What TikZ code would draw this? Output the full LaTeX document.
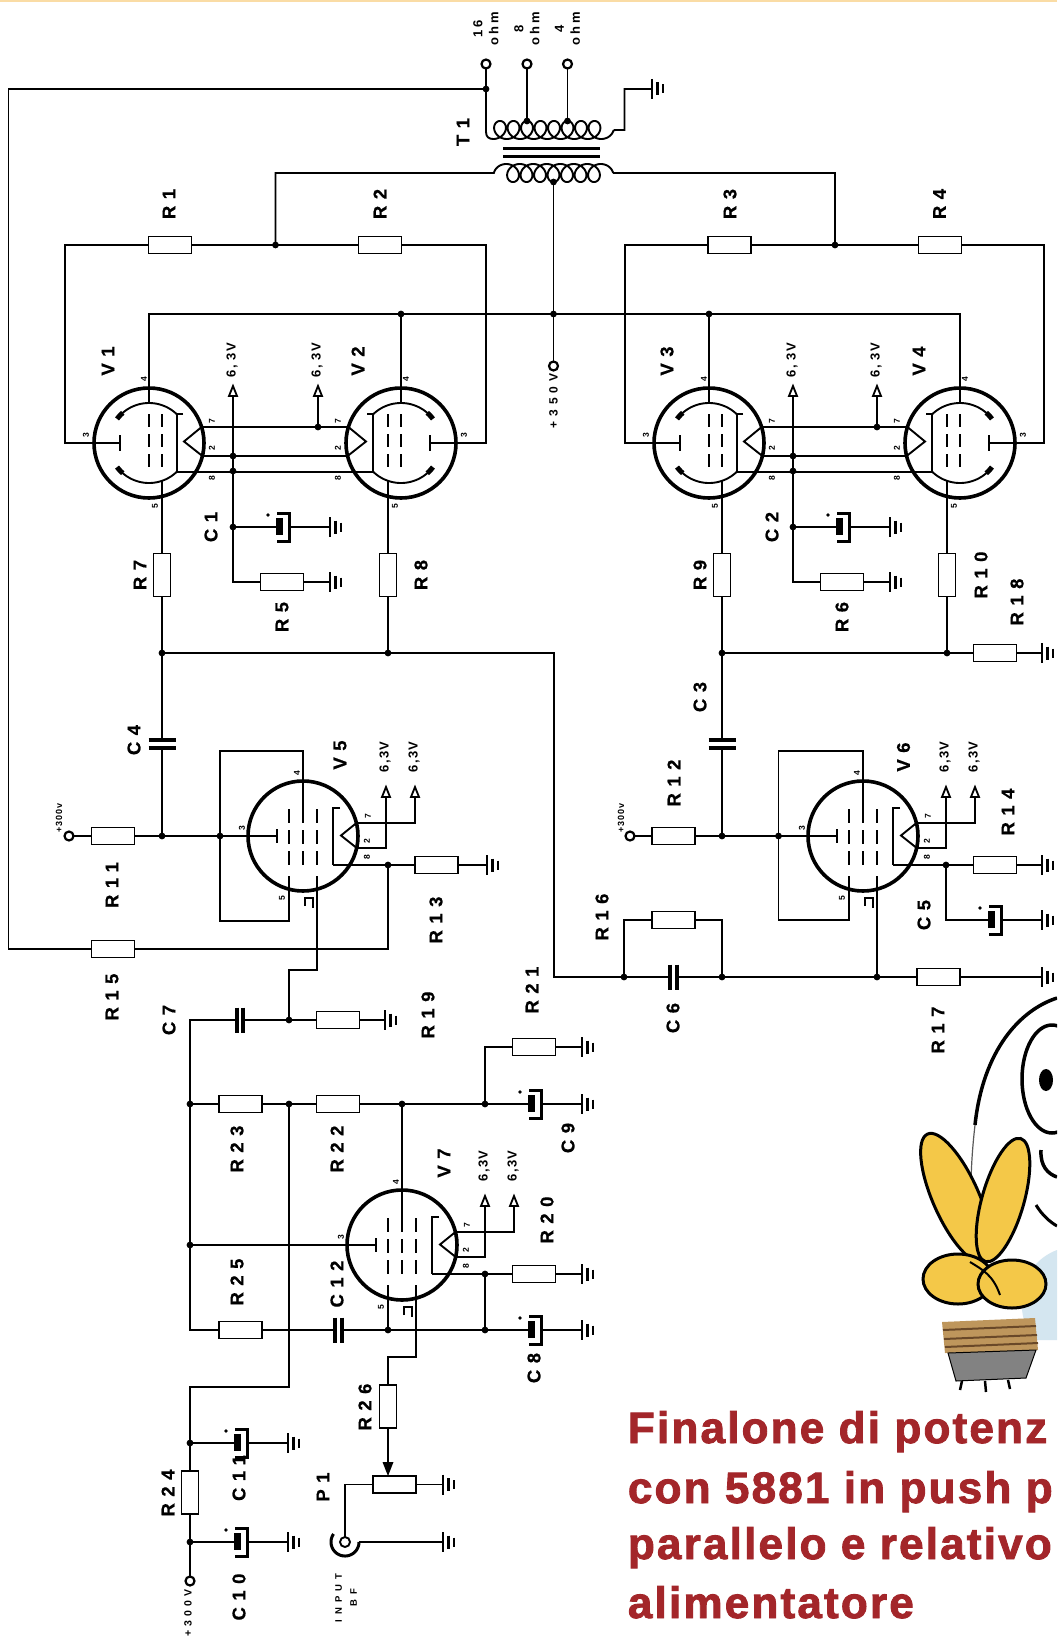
\documentclass[tikz,border=0pt]{standalone}
\usepackage{fontspec}
\setmainfont{Liberation Sans}
\newfontfamily\lblfont{Liberation Sans}[LetterSpace=35, BoldFeatures={FakeBold=0.6}]
\newfontfamily\voltfont{Liberation Sans}[LetterSpace=10]
\newfontfamily\smallvfont{Liberation Sans}[LetterSpace=12]
\newfontfamily\widefont{Liberation Sans}[LetterSpace=22]
\newfontfamily\supplyfont{Liberation Sans}[LetterSpace=40]
\newfontfamily\inputfont{Liberation Sans}[LetterSpace=55]
\newfontfamily\titlefont{Liberation Sans}[LetterSpace=5, BoldFeatures={FakeBold=2}]
\usetikzlibrary{calc}

\definecolor{titlered}{RGB}{163,38,42}
\definecolor{bulbyellow}{RGB}{244,200,72}
\definecolor{collar}{RGB}{190,150,92}
\definecolor{collardark}{RGB}{105,72,40}
\definecolor{capgrey}{RGB}{130,130,130}
\definecolor{glow}{RGB}{212,230,240}
\definecolor{topband}{RGB}{250,220,165}

\tikzset{
  resh/.style={draw, line width=1.9pt, fill=white, minimum width=43pt,
    minimum height=17pt, inner sep=0pt, outer sep=0pt},
  resv/.style={resh, minimum width=17pt, minimum height=43pt},
  terminal/.style={draw, circle, line width=2.2pt, fill=white,
    minimum size=9pt, inner sep=0pt, outer sep=0pt},
  lbl/.style={rotate=90, inner sep=0pt,
    font=\lblfont\bfseries\fontsize{18.5}{18.5}\selectfont},
  pinlbl/.style={rotate=90, inner sep=0pt,
    font=\bfseries\fontsize{8.5}{8.5}\selectfont},
  voltlbl/.style={rotate=90, inner sep=0pt,
    font=\voltfont\bfseries\fontsize{13}{13}\selectfont},
  smallvlbl/.style={rotate=90, inner sep=0pt,
    font=\smallvfont\bfseries\fontsize{9}{9}\selectfont},
  widelbl/.style={rotate=90, inner sep=0pt, align=center,
    font=\widefont\bfseries\fontsize{13}{16}\selectfont},
  supplylbl/.style={rotate=90, inner sep=0pt,
    font=\supplyfont\bfseries\fontsize{12}{12}\selectfont},
  inputlbl/.style={rotate=90, inner sep=0pt, align=center,
    font=\inputfont\bfseries\fontsize{9.5}{15}\selectfont},
  titletext/.style={anchor=base west, inner sep=0pt, text=titlered,
    font=\titlefont\bfseries\fontsize{44}{44}\selectfont},
  % earth symbol, long bar at the origin, pointing right
  gnd/.pic={
    \draw[line width=2.4pt] (0,-10) -- (0,10) (5.5,-6.5) -- (5.5,6.5) (11,-4.5) -- (11,4.5);
  },
  % electrolytic capacitor, lead-in at the origin
  elcap/.pic={
    \fill (0,-9) rectangle (7,8);
    \draw[line width=3pt] (1,-14) -- (13,-14) -- (13,14) -- (1,14);
    \fill (-8,-12) circle (1.8pt);
    \coordinate (-w) at (0,0);
    \coordinate (-e) at (13,0);
  },
  hcap/.pic={
    \draw[line width=4pt] (-3.4,-12.5) -- (-3.4,12.5) (3.4,-12.5) -- (3.4,12.5);
    \coordinate (-w) at (-3.4,0);
    \coordinate (-e) at (3.4,0);
  },
  vcap/.pic={
    \draw[line width=4pt] (-13.5,-4) -- (13.5,-4) (-13.5,4) -- (13.5,4);
    \coordinate (-n) at (0,-4);
    \coordinate (-s) at (0,4);
  },
  harrow/.pic={
    \draw[line width=1.8pt, fill=white] (0,0) -- (4,10) -- (-4,10) -- cycle;
    \coordinate (-b) at (0,10);
  },
  % beam power tetrode
  tetr/.pic={
    \draw[line width=3.6pt] (0,0) circle (55pt);
    \draw (-55,0) -- (-29,0);
    \draw[line width=2.4pt] (-29,-8) -- (-29,8);
    \draw (0,-55) -- (0,-40);
    \draw[line width=2.4pt, dash pattern=on 13pt off 7pt] (0,-29) -- (0,25);
    \draw[line width=2.4pt, dash pattern=on 13pt off 7pt] (13,-29) -- (13,25);
    \draw (13,53.4) -- (13,37.8);
    \draw plot[domain=221:314, samples=40, variable=\a] ({40*cos(\a)},{40*sin(\a)});
    \draw plot[domain=46:139, samples=40, variable=\a] ({40*cos(\a)},{40*sin(\a)});
    \draw[line width=5pt] plot[domain=217:229, samples=8, variable=\a] ({40*cos(\a)},{40*sin(\a)});
    \draw[line width=5pt] plot[domain=131:143, samples=8, variable=\a] ({40*cos(\a)},{40*sin(\a)});
    \draw (34,-28.8) -- (27.8,-28.8) -- (27.8,28.8);
    \draw (52.6,-16) -- (35,-1.5) -- (53.4,13);
    \coordinate (-p3) at (-55,0);
    \coordinate (-p4) at (0,-55);
    \coordinate (-p5) at (13,53.4);
    \coordinate (-h7) at (52.6,-16);
    \coordinate (-h2) at (53.4,13);
    \coordinate (-k) at (27.8,28.8);
    \node[pinlbl] at (-5,-64) {4};
    \node[pinlbl] at (-63,-8) {3};
    \node[pinlbl] at (6,63) {5};
    \node[pinlbl] at (63,-22) {7};
    \node[pinlbl] at (63,5) {2};
    \node[pinlbl] at (63,35) {8};
  },
  % pentode
  pent/.pic={
    \draw[line width=3.6pt] (0,0) circle (55pt);
    \draw (-55,0) -- (-26,0);
    \draw[line width=2.4pt] (-26,-7) -- (-26,7);
    \draw (0,-55) -- (0,-27);
    \foreach \gx in {-14,0,14}
      \draw[line width=2.4pt, dash pattern=on 14pt off 7pt] (\gx,-27) -- (\gx,29);
    \draw (-14,53.2) -- (-14,40);
    \draw (14,53.2) -- (14,40);
    \draw (37,-28) -- (30,-28) -- (30,29);
    \draw (53.4,-13) -- (38,-0.5) -- (53.7,12);
    \draw[line width=1.3pt] (2,70) -- (2,62) -- (10,62) -- (10,72);
    \coordinate (-p3) at (-55,0);
    \coordinate (-p4) at (0,-55);
    \coordinate (-p5) at (-14,53.2);
    \coordinate (-g1) at (14,53.2);
    \coordinate (-h7) at (53.4,-13);
    \coordinate (-h2) at (53.7,12);
    \coordinate (-k) at (30,29);
    \node[pinlbl] at (-61,-8) {3};
    \node[pinlbl] at (-6,-63) {4};
    \node[pinlbl] at (-21,62) {5};
    \node[pinlbl] at (65,-20) {7};
    \node[pinlbl] at (64,5) {2};
    \node[pinlbl] at (64,21) {8};
  },
}

\begin{document}
\begin{tikzpicture}[x=1pt, y=-1pt, line width=1.9pt]
\useasboundingbox (0,0) rectangle (1057,1640);
\clip (0,0) rectangle (1057,1640);
\fill[white] (0,0) rectangle (1057,1640);
\fill[topband] (0,0) rectangle (1057,2.5);

% ---------------- tubes ----------------
\pic (V1) at (149,443) {tetr};
\pic[xscale=-1] (V2) at (401,443) {tetr};
\pic (V3) at (709,443) {tetr};
\pic[xscale=-1] (V4) at (960,443) {tetr};
\pic (V5) at (303,836) {pent};
\pic (V6) at (863,836) {pent};
\pic (V7) at (402,1245) {pent};

% ---------------- output transformer ----------------
\node[terminal] (o16) at (486,64) {};
\node[terminal] (o8) at (527,64) {};
\node[terminal] (o4) at (567.5,64) {};
\node[widelbl] at (486,29) {16\\ohm};
\node[widelbl] at (527,29) {8\\ohm};
\node[widelbl] at (567.5,29) {4\\ohm};
\coordinate (tA) at (486,89);
\coordinate (t8) at (527,121);
\coordinate (t4) at (567.5,121);
\coordinate (ct) at (553.5,182);
\coordinate (priL) at (493.875,173);
\coordinate (gT) at (652,89);
\draw (o16) -- (tA);
\draw (tA) -- (486,132) .. controls (486,137) and (489,139) .. (493.25,139)
  -- plot[domain=0:51.836, samples=500, variable=\t]
     ({493.25+13.5*\t/6.28319+9*sin(\t r)}, {130+9*cos(\t r)}) coordinate (secR);
\draw (secR) -- (624.5,130) -- (624.5,89) -- (gT);
\pic at (gT) {gnd};
\draw (o8) -- (t8);
\draw (o4) -- (t4);
\draw[line width=3.5pt] (503,148.5) -- (600,148.5) (503,156.5) -- (600,156.5);
\node[lbl] at (463,132) {T1};

% plate resistors
\node[resh] (R1) at (170,245) {};
\node[resh] (R2) at (380,245) {};
\node[resh] (R3) at (729.5,245) {};
\node[resh] (R4) at (940,245) {};
\coordinate (jR12) at (275.5,245);
\coordinate (jR34) at (835,245);
\draw (R1.east) -- (jR12) -- (R2.west);
\draw (R3.east) -- (jR34) -- (R4.west);
\draw (jR12) |- (priL)
  -- plot[domain=-1.5708:45.553, samples=450, variable=\t]
     ({506.25+13.5*\t/6.28319+9*sin(\t r)}, {173-9*cos(\t r)}) coordinate (priR);
\draw (jR34) |- (priR);
\draw (R1.west) -- (65,245) |- (V1-p3);
\draw (R2.east) -- (486,245) |- (V2-p3);
\draw (R3.west) -- (625,245) |- (V3-p3);
\draw (R4.east) -- (1044,245) |- (V4-p3);
\node[lbl] at (169,204) {R1};
\node[lbl] at (380,204) {R2};
\node[lbl] at (730,204) {R3};
\node[lbl] at (939.5,204) {R4};

% supply line
\coordinate (bV2) at (401,314);
\coordinate (bCT) at (553.5,314);
\coordinate (bV3) at (709,314);
\node[terminal] (t350) at (553.5,366) {};
\draw (V1-p4) -- (149,314) -- (960,314) -- (V4-p4);
\draw (V2-p4) -- (bV2);
\draw (V3-p4) -- (bV3);
\draw (ct) -- (t350);
\node[supplylbl] at (553.5,401) {+350V};

\node[lbl] at (108,361) {V1};
\node[lbl] at (358,361) {V2};
\node[lbl] at (667,361) {V3};
\node[lbl] at (919,361) {V4};

% heaters and cathodes, left pair
\draw (V1-h7) -- (V2-h7);
\draw (V1-h2) -- (V2-h2);
\draw (V1-k) -- (V2-k);
\pic (A1) at (233,386) {harrow};
\pic (A2) at (318,386) {harrow};
\node[voltlbl] at (232,360) {6, 3V};
\node[voltlbl] at (317,360) {6, 3V};
\node[resh] (R5) at (282,582) {};
\coordinate (gR5) at (330,582);
\coordinate (jC1) at (233,527);
\coordinate (gC1) at (330,527);
\draw (A1-b) -- (233,582) -- (R5.west);
\draw (R5.east) -- (gR5);
\pic at (gR5) {gnd};
\draw (A2-b) -- (318,427);
\pic (C1) at (276,527) {elcap};
\draw (jC1) -- (C1-w);
\draw (C1-e) -- (gC1);
\pic at (gC1) {gnd};
\node[lbl] at (211,527) {C1};
\node[lbl] at (282,617) {R5};

% heaters and cathodes, right pair
\draw (V3-h7) -- (V4-h7);
\draw (V3-h2) -- (V4-h2);
\draw (V3-k) -- (V4-k);
\pic (A3) at (793,386) {harrow};
\pic (A4) at (877,386) {harrow};
\node[voltlbl] at (792,360) {6, 3V};
\node[voltlbl] at (876,360) {6, 3V};
\node[resh] (R6) at (842,582) {};
\coordinate (gR6) at (890,582);
\coordinate (jC2) at (793,527);
\coordinate (gC2) at (890,527);
\draw (A3-b) -- (793,582) -- (R6.west);
\draw (R6.east) -- (gR6);
\pic at (gR6) {gnd};
\draw (A4-b) -- (877,427);
\pic (C2) at (836,527) {elcap};
\draw (jC2) -- (C2-w);
\draw (C2-e) -- (gC2);
\pic at (gC2) {gnd};
\node[lbl] at (772,527) {C2};
\node[lbl] at (842,617) {R6};

% screen-grid resistors
\node[resv] (R7) at (162,575) {};
\node[resv] (R8) at (388,575) {};
\node[resv] (R9) at (722,575) {};
\node[resv] (R10) at (947,575) {};
\coordinate (jR7) at (162,653);
\coordinate (jR8) at (388,653);
\coordinate (jR9) at (722,653);
\coordinate (jR10) at (947,653);
\coordinate (jR16L) at (624,977);
\draw (V1-p5) -- (R7.north);
\draw (V2-p5) -- (R8.north);
\draw (V3-p5) -- (R9.north);
\draw (V4-p5) -- (R10.north);
\draw (R7.south) -- (jR7);
\draw (R8.south) -- (jR8);
\draw (R9.south) -- (jR9);
\draw (R10.south) -- (jR10);
\draw (jR7) -- (jR8) -- (554,653) -- (554,977) -- (jR16L);
\node[resh] (R18) at (995,653) {};
\coordinate (gR18) at (1042,653);
\draw (jR9) -- (jR10) -- (R18.west);
\draw (R18.east) -- (gR18);
\pic at (gR18) {gnd};
\node[lbl] at (140,575) {R7};
\node[lbl] at (421,575) {R8};
\node[lbl] at (700,575) {R9};
\node[lbl] at (981,575) {R10};
\node[lbl] at (1017,602) {R18};

% coupling capacitors to the drivers
\pic (C4) at (162,744) {vcap};
\pic (C3) at (722,744) {vcap};
\coordinate (jC4) at (162,836);
\coordinate (jC3) at (722,836);
\draw (jR7) -- (C4-n);
\draw (C4-s) -- (jC4);
\draw (jR9) -- (C3-n);
\draw (C3-s) -- (jC3);
\node[lbl] at (134,740) {C4};
\node[lbl] at (700,697) {C3};

% driver V5
\node[terminal] (t300a) at (69,836) {};
\node[smallvlbl] at (59,818) {+300v};
\node[resh] (R11) at (113,836) {};
\coordinate (jV5) at (220,836);
\draw (t300a) -- (R11.west);
\draw (R11.east) -- (jC4) -- (jV5) -- (V5-p3);
\draw (jV5) -- (220,751) -| (V5-p4);
\draw (jV5) -- (220,921) -| (V5-p5);
\coordinate (jC7) at (289,1020);
\draw (V5-g1) -- (317,970) -| (jC7);
\coordinate (jK5) at (388,865);
\node[resh] (R13) at (436.5,865) {};
\coordinate (gR13) at (487,865);
\draw (V5-k) -- (jK5) -- (R13.west);
\draw (R13.east) -- (gR13);
\pic at (gR13) {gnd};
\node[resh] (R15) at (113,949) {};
\draw (jK5) -- (388,949) -- (R15.east);
\draw (R15.west) -- (8.5,949) -- (8.5,89) -- (tA);
\pic (A5a) at (386,787) {harrow};
\pic (A5b) at (415,787) {harrow};
\draw (V5-h7) -| (A5b-b);
\draw (V5-h2) -| (A5a-b);
\node[voltlbl] at (385,757) {6,3V};
\node[voltlbl] at (414,757) {6,3V};
\node[lbl] at (340,755) {V5};
\node[lbl] at (112,885) {R11};
\node[lbl] at (436,920) {R13};
\node[lbl] at (112,997) {R15};

% driver V6
\node[terminal] (t300b) at (630,836) {};
\node[smallvlbl] at (621,818) {+300v};
\node[resh] (R12) at (673.5,836) {};
\coordinate (jV6) at (778.5,836);
\draw (t300b) -- (R12.west);
\draw (R12.east) -- (jC3) -- (jV6) -- (V6-p3);
\draw (jV6) -- (778.5,751) -| (V6-p4);
\draw (jV6) -- (778.5,920) -| (V6-p5);
\coordinate (jG6) at (877,977);
\draw (V6-g1) -- (jG6);
\coordinate (jK6) at (946,865);
\node[resh] (R14) at (995,865) {};
\coordinate (gR14) at (1042,865);
\draw (V6-k) -- (jK6) -- (R14.west);
\draw (R14.east) -- (gR14);
\pic at (gR14) {gnd};
\pic (C5) at (988,920) {elcap};
\coordinate (gC5) at (1042,920);
\draw (jK6) -- (946,920) -- (C5-w);
\draw (C5-e) -- (gC5);
\pic at (gC5) {gnd};
\pic (A6a) at (946,787) {harrow};
\pic (A6b) at (975,787) {harrow};
\draw (V6-h7) -| (A6b-b);
\draw (V6-h2) -| (A6a-b);
\node[voltlbl] at (945,757) {6,3V};
\node[voltlbl] at (974,757) {6,3V};
\node[lbl] at (903.5,757) {V6};
\node[lbl] at (674,783) {R12};
\node[lbl] at (1008,812) {R14};
\node[lbl] at (924,915) {C5};

% phase-splitter cathode network
\pic (C6) at (673.5,977) {hcap};
\coordinate (jR16R) at (722,977);
\node[resh] (R16) at (673.5,920) {};
\node[resh] (R17) at (938.5,977) {};
\coordinate (gR17) at (1042,977);
\draw (jR16L) -- (C6-w);
\draw (C6-e) -- (jR16R) -- (jG6) -- (R17.west);
\draw (R17.east) -- (gR17);
\pic at (gR17) {gnd};
\draw (jR16L) -- (624,920) -- (R16.west);
\draw (R16.east) -- (722,920) -- (jR16R);
\node[lbl] at (602,917) {R16};
\node[lbl] at (673,1018) {C6};
\node[lbl] at (938,1030) {R17};

% input stage coupling
\node[resh] (R19) at (338,1020) {};
\coordinate (gR19) at (385,1020);
\pic (C7) at (240,1020) {hcap};
\coordinate (jL1) at (190,1104);
\draw (jC7) -- (R19.west);
\draw (R19.east) -- (gR19);
\pic at (gR19) {gnd};
\draw (jC7) -- (C7-e);
\draw (C7-w) -- (190,1020) -- (jL1);
\node[lbl] at (169,1020) {C7};
\node[lbl] at (428,1015) {R19};

% input stage V7
\node[resh] (R23) at (240.5,1104) {};
\node[resh] (R22) at (338,1104) {};
\coordinate (jL2) at (289,1104);
\coordinate (jA7) at (402,1104);
\coordinate (jC9) at (485,1104);
\pic (C9) at (528,1104) {elcap};
\coordinate (gC9) at (582,1104);
\draw (jL1) -- (R23.west);
\draw (R23.east) -- (jL2) -- (R22.west);
\draw (R22.east) -- (jA7) -- (jC9) -- (C9-w);
\draw (C9-e) -- (gC9);
\pic at (gC9) {gnd};
\node[resh] (R21) at (534,1047) {};
\coordinate (gR21) at (582,1047);
\draw (jC9) -- (485,1047) -- (R21.west);
\draw (R21.east) -- (gR21);
\pic at (gR21) {gnd};
\draw (V7-p4) -- (jA7);
\coordinate (jL3) at (190,1245);
\draw (jL1) -- (jL3) -- (V7-p3);
\node[resh] (R25) at (240.5,1330) {};
\pic (C12) at (338.5,1330) {hcap};
\coordinate (jP5) at (388,1330);
\coordinate (jK7b) at (485,1330);
\pic (C8) at (528,1330) {elcap};
\coordinate (gC8) at (582,1330);
\draw (jL3) -- (190,1330) -- (R25.west);
\draw (R25.east) -- (C12-w);
\draw (C12-e) -- (jP5) -- (jK7b) -- (C8-w);
\draw (C8-e) -- (gC8);
\pic at (gC8) {gnd};
\draw (V7-p5) -- (jP5);
\coordinate (jK7) at (485,1274);
\node[resh] (R20) at (534,1274) {};
\coordinate (gR20) at (582,1274);
\draw (V7-k) -- (jK7) -- (R20.west);
\draw (R20.east) -- (gR20);
\pic at (gR20) {gnd};
\draw (jK7) -- (jK7b);
\pic (A7a) at (485,1196) {harrow};
\pic (A7b) at (514,1196) {harrow};
\draw (V7-h7) -| (A7b-b);
\draw (V7-h2) -| (A7a-b);
\node[voltlbl] at (484,1166) {6,3V};
\node[voltlbl] at (513,1166) {6,3V};
\node[lbl] at (532,990) {R21};
\node[lbl] at (237,1149) {R23};
\node[lbl] at (337,1149) {R22};
\node[lbl] at (444,1163) {V7};
\node[lbl] at (547,1220) {R20};
\node[lbl] at (568,1138) {C9};
\node[lbl] at (237,1282) {R25};
\node[lbl] at (337,1284) {C12};
\node[lbl] at (534,1368) {C8};

% input, volume control
\node[resv] (R26) at (388,1406.5) {};
\node[resh] (P1) at (394.5,1484.5) {};
\draw (V7-g1) -- (416,1357) -| (R26.north);
\coordinate (wip) at (R26.south |- P1.north);
\draw (R26.south) -- ($(wip)+(0,-12)$);
\fill (wip) -- ($(wip)+(-5.5,-14)$) -- ($(wip)+(5.5,-14)$) -- cycle;
\coordinate (gP1) at (443,1484.5);
\draw (P1.east) -- (gP1);
\pic at (gP1) {gnd};
\coordinate (jack) at (345,1542);
\draw (P1.west) -| ($(jack)+(0,-5)$);
\draw[line width=1.9pt] (jack) circle (5pt);
\draw[line width=3pt] plot[domain=0:215, samples=40, variable=\a] ({345+14*cos(\a)},{1542+14*sin(\a)});
\coordinate (jackR) at (359,1542);
\coordinate (gJ) at (443,1542);
\draw (jackR) -- (gJ);
\pic at (gJ) {gnd};
\node[lbl] at (365,1407) {R26};
\node[lbl] at (323,1487) {P1};
\node[inputlbl] at (346,1598) {INPUT\\BF};

% supply filter of the input stage
\coordinate (jC11) at (190,1443);
\coordinate (jC10) at (190,1542);
\node[resv] (R24) at (190,1492.5) {};
\node[terminal] (t300c) at (190,1581) {};
\draw (jL2) -- (289,1387) -- (190,1387) -- (jC11) -- (R24.north);
\draw (R24.south) -- (jC10) -- (t300c);
\pic (C11) at (234,1443) {elcap};
\pic (C10) at (234,1542) {elcap};
\coordinate (gC11) at (288,1443);
\coordinate (gC10) at (288,1542);
\draw (jC11) -- (C11-w);
\draw (C11-e) -- (gC11);
\pic at (gC11) {gnd};
\draw (jC10) -- (C10-w);
\draw (C10-e) -- (gC10);
\pic at (gC10) {gnd};
\node[rotate=90, inner sep=0pt, font=\supplyfont\bfseries\fontsize{10.5}{10.5}\selectfont] at (188,1613) {+300V};
\node[lbl] at (168,1493) {R24};
\node[lbl] at (239,1478) {C11};
\node[lbl] at (239,1597) {C10};

% junction dots
\foreach \j in {tA,t8,t4,ct,jR12,jR34,bV2,bCT,bV3,
  jR7,jR8,jR9,jR10,jC4,jV5,jK5,jC3,jV6,jK6,jR16L,jR16R,jG6,jC7,
  jL1,jL2,jA7,jC9,jL3,jK7,jP5,jK7b,jC11,jC10,jC1,jC2}
  \fill (\j) circle (3.4pt);
\foreach \p in {(233,456),(233,471),(318,427),(793,456),(793,471),(877,427)}
  \fill \p circle (3.4pt);

% ---------------- mascot ----------------
\fill[glow] (1057,1250) .. controls (1025,1262) and (1010,1300) .. (1032,1340) -- (1057,1340) -- cycle;
\draw[line width=3.5pt] (1057,998) .. controls (1020,1010) and (983,1050) .. (975,1125);
\draw[line width=1.2pt, black!65] (975,1125) .. controls (971,1160) and (970,1190) .. (972,1215);
\draw[line width=3.5pt, fill=white] (1052,1079) ellipse (30pt and 54pt);
\fill (1046,1080) ellipse (7pt and 11pt);
\draw[line width=3.5pt] (1041,1150) .. controls (1040,1166) and (1048,1174) .. (1057,1177);
\draw[line width=3pt] (1036,1205) .. controls (1042,1215) and (1050,1222) .. (1057,1226);
\draw[line width=3pt, fill=bulbyellow, shift={(956,1198)}, rotate=-66] (0,0) ellipse (70pt and 23pt);
\draw[line width=3pt, fill=bulbyellow, shift={(1003,1200)}, rotate=-106] (0,0) ellipse (64pt and 21pt);
\draw[line width=3pt, fill=bulbyellow] (958,1279) ellipse (35pt and 25pt);
\draw[line width=3pt, fill=bulbyellow] (1012,1284) ellipse (34pt and 24pt);
\draw[line width=2pt] (970,1262) .. controls (983,1270) and (993,1275) .. (1000,1295);
\fill[collar] (942,1322) -- (1035,1318) -- (1038,1350) -- (945,1353) -- cycle;
\draw[collardark, line width=2pt] (943,1330) -- (1036,1326) (944,1339) -- (1037,1335) (945,1347) -- (1038,1343);
\draw[line width=1pt, fill=capgrey] (948,1353) -- (1036,1350) -- (1026,1378) -- (956,1381) -- cycle;
\draw[line width=2.5pt] (962,1381) -- (960,1390) (985,1381) -- (986,1392) (1008,1380) -- (1010,1389);

% ---------------- title ----------------
\node[titletext] at (627,1443) {Finalone di potenz};
\node[titletext] at (627,1503) {con 5881 in push p};
\node[titletext] at (627,1559) {parallelo e relativo};
\node[titletext] at (627,1618) {alimentatore};
\end{tikzpicture}
\end{document}
